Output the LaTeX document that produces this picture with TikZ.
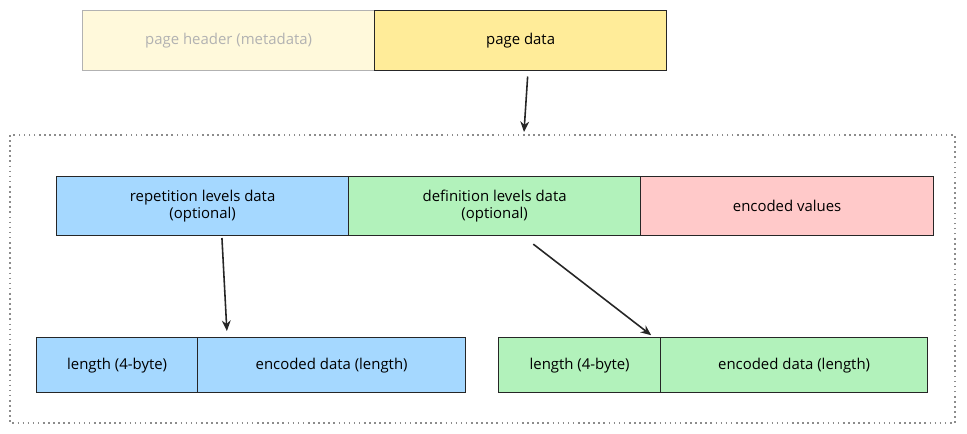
\documentclass[tikz,border=0pt]{standalone}
\usepackage{fontspec}
\setmainfont{Open Sans}
\usetikzlibrary{positioning,arrows.meta}
\definecolor{hdrfill}{HTML}{FFF9DB}
\definecolor{datafill}{HTML}{FFEC99}
\definecolor{bluefill}{HTML}{A5D8FF}
\definecolor{greenfill}{HTML}{B2F2BB}
\definecolor{redfill}{HTML}{FFC9C9}
\tikzset{
  cell/.style={
    draw=black!85,
    line width=0.7pt,
    rectangle,
    anchor=north west,
    align=center,
    font=\fontsize{8.5}{10}\selectfont,
    inner sep=0pt
  },
  arr/.style={-{Stealth[length=6pt,width=5pt]},line width=0.9pt,black!85}
}
\begin{document}
\begin{tikzpicture}[x=0.02cm,y=-0.02cm]
    \useasboundingbox (0,0) rectangle (967,433);
    % page
    \node [cell,fill=hdrfill,draw=black!30,text=black!30,minimum width=292*0.02cm,minimum height=60*0.02cm] (hdr) at (82,10) {page header (metadata)};
    \node [cell,fill=datafill,minimum width=292*0.02cm,minimum height=60*0.02cm] (pdata) at (374,10) {page data};
    % container
    \draw [black!45,line width=0.9pt,dotted] (10,135) rectangle (955,423);
    \coordinate (top) at (524,132);
    \draw [arr] ([xshift=4pt,yshift=-3pt]pdata.south) -- (top);
    % levels and values
    \node [cell,fill=bluefill,minimum width=292*0.02cm,minimum height=59*0.02cm] (rep) at (56,176) {repetition levels data\\(optional)};
    \node [cell,fill=greenfill,minimum width=292*0.02cm,minimum height=59*0.02cm] (def) at (348,176) {definition levels data\\(optional)};
    \node [cell,fill=redfill,minimum width=293*0.02cm,minimum height=59*0.02cm] (enc) at (640,176) {encoded values};
    % rep parts
    \node [cell,fill=bluefill,minimum width=161*0.02cm,minimum height=55*0.02cm] (replen) at (36,337) {length (4-byte)};
    \node [cell,fill=bluefill,minimum width=268*0.02cm,minimum height=55*0.02cm] (repdat) at (197,337) {encoded data (length)};
    % def parts
    \node [cell,fill=greenfill,minimum width=162*0.02cm,minimum height=55*0.02cm] (deflen) at (498,337) {length (4-byte)};
    \node [cell,fill=greenfill,minimum width=267*0.02cm,minimum height=55*0.02cm] (defdat) at (660,337) {encoded data (length)};
    % arrows
    \draw [arr] ([xshift=11pt,yshift=-1pt]rep.south) -- ([xshift=17pt,yshift=3.4pt]repdat.north west);
    \draw [arr] ([xshift=22pt,yshift=-4.5pt]def.south) -- ([xshift=-5pt,yshift=1pt]defdat.north west);
\end{tikzpicture}
\end{document}
